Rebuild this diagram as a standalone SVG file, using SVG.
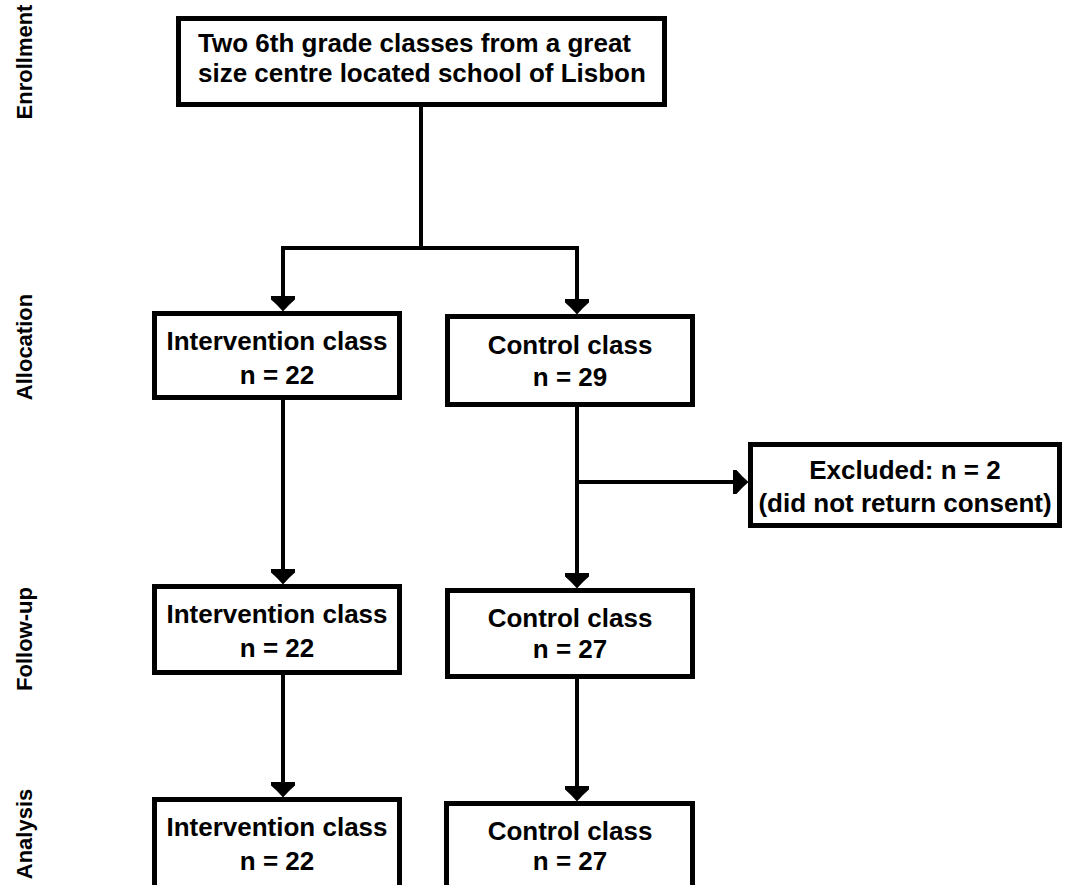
<svg xmlns="http://www.w3.org/2000/svg" width="1065" height="885" viewBox="0 0 1065 885">
<style>
.box{fill:#fff;stroke:#000;stroke-width:5}
.t{font-family:"Liberation Sans",Arial,sans-serif;font-weight:bold;font-size:26px;fill:#000}
.c{text-anchor:middle}
.side{font-family:"Liberation Sans",Arial,sans-serif;font-weight:bold;font-size:22px;fill:#000;text-anchor:middle}
.ln{fill:none;stroke:#000;stroke-width:4}
</style>
<defs>
<marker id="ah" markerUnits="userSpaceOnUse" viewBox="0 -12 16 24" markerWidth="16" markerHeight="24" refX="0.5" refY="0" orient="auto">
<path d="M0,-12 L4,-12 Q9,-6 16,0 Q9,6 4,12 L0,12 Z" fill="#000"/>
</marker>
</defs>
<rect width="1065" height="885" fill="#fff"/>
<g id="labels">
<text class="side" transform="translate(32,62) rotate(-90)">Enrollment</text>
<text class="side" transform="translate(32,347) rotate(-90)">Allocation</text>
<text class="side" transform="translate(32,639) rotate(-90)">Follow-up</text>
<text class="side" transform="translate(32,834) rotate(-90)">Analysis</text>
</g>
<g id="connectors">
<path class="ln" d="M421,106 V248"/>
<path class="ln" d="M423,248 H283 V296" marker-end="url(#ah)"/>
<path class="ln" d="M419,248 H577 V299" marker-end="url(#ah)"/>
<path class="ln" d="M283,400 V569" marker-end="url(#ah)"/>
<path class="ln" d="M283,675 V782" marker-end="url(#ah)"/>
<path class="ln" d="M577,407 V573" marker-end="url(#ah)"/>
<path class="ln" d="M577,679 V786" marker-end="url(#ah)"/>
<path class="ln" d="M577,482 H733" marker-end="url(#ah)"/>
</g>
<g id="enroll">
<rect class="box" x="178.5" y="18.5" width="486" height="86"/>
<text class="t" x="198" y="52">Two 6th grade classes from a great</text>
<text class="t" x="198" y="82">size centre located school of Lisbon</text>
</g>
<g id="alloc-int">
<rect class="box" x="154.5" y="313.5" width="245" height="84"/>
<text class="t c" x="277" y="350">Intervention class</text>
<text class="t c" x="277" y="384">n = 22</text>
</g>
<g id="alloc-ctrl">
<rect class="box" x="447.5" y="316.5" width="245" height="88"/>
<text class="t c" x="570" y="354">Control class</text>
<text class="t c" x="570" y="386">n = 29</text>
</g>
<g id="excluded">
<rect class="box" x="750.5" y="444.5" width="309" height="81"/>
<text class="t c" x="905" y="479">Excluded: n = 2</text>
<text class="t c" x="905" y="512">(did not return consent)</text>
</g>
<g id="fu-int">
<rect class="box" x="154.5" y="586.5" width="245" height="86"/>
<text class="t c" x="277" y="623">Intervention class</text>
<text class="t c" x="277" y="657">n = 22</text>
</g>
<g id="fu-ctrl">
<rect class="box" x="447.5" y="590.5" width="245" height="86"/>
<text class="t c" x="570" y="627">Control class</text>
<text class="t c" x="570" y="658">n = 27</text>
</g>
<g id="an-int">
<rect class="box" x="154.5" y="799.5" width="245" height="120"/>
<text class="t c" x="277" y="836">Intervention class</text>
<text class="t c" x="277" y="870">n = 22</text>
</g>
<g id="an-ctrl">
<rect class="box" x="446.5" y="803.5" width="246" height="120"/>
<text class="t c" x="570" y="840">Control class</text>
<text class="t c" x="570" y="870">n = 27</text>
</g>
</svg>
